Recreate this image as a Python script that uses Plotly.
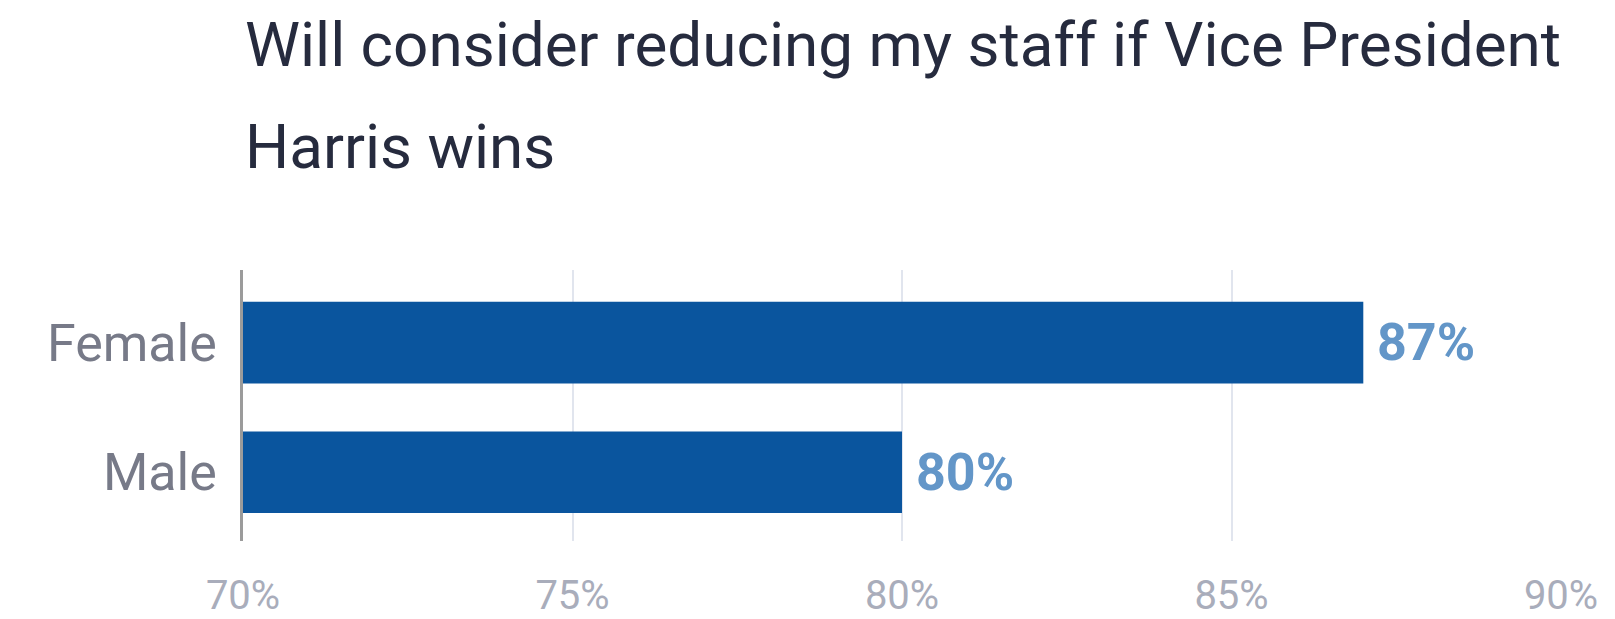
import plotly.graph_objects as go

# Survey share by gender
categories = ["Female", "Male"]
values = [87, 80]
value_labels = ["87%", "80%"]
tick_values = [70, 75, 80, 85, 90]
tick_labels = ["70%", "75%", "80%", "85%", "90%"]
title_lines = ["Will consider reducing my staff if Vice President", "Harris wins"]

FONT = "Roboto"
W, H = 1615, 619
M_L, M_R, M_T, M_B = 243, 54, 270, 78
plot_h = H - M_T - M_B

fig = go.Figure(
    go.Bar(
        x=values,
        y=categories,
        orientation="h",
        width=0.63,
        marker=dict(color="#0a559e", line=dict(width=0)),
        hoverinfo="skip",
    )
)

# value labels just past the bar ends
for cat, v, lab in zip(categories, values, value_labels):
    fig.add_annotation(
        x=v, y=cat, xref="x", yref="y", text=f"<b>{lab}</b>",
        showarrow=False, xanchor="left", yanchor="middle", xshift=12,
        font=dict(family=FONT, size=52, color="#6396c8"),
    )

# two-line heading above the plot area
title_px = [45, 146]
for line, py in zip(title_lines, title_px):
    fig.add_annotation(
        x=0, y=(H - M_B - py) / plot_h, xref="paper", yref="paper",
        text=line, showarrow=False, xanchor="left", yanchor="middle",
        font=dict(family=FONT, size=62, color="#262b3e"),
    )

fig.update_layout(
    width=W, height=H,
    margin=dict(l=M_L, r=M_R, t=M_T, b=M_B, pad=0, autoexpand=False),
    paper_bgcolor="white", plot_bgcolor="white",
    showlegend=False,
    xaxis=dict(
        range=[70, 90], tickvals=tick_values, ticktext=tick_labels,
        showgrid=True, gridcolor="#e1e5ee", gridwidth=2,
        zeroline=False, showline=False, ticks="",
        automargin=False,
        ticklabelstandoff=27,
        tickfont=dict(family=FONT, size=40, color="#a9adbb"),
        fixedrange=True,
    ),
    yaxis=dict(
        categoryorder="array", categoryarray=categories,
        range=[1.53, -0.56],
        showgrid=False, zeroline=False,
        showline=True, linecolor="#9b9b9b", linewidth=2.5,
        ticks="", ticklabelstandoff=13, automargin=False,
        tickfont=dict(family=FONT, size=52, color="#777a88"),
        fixedrange=True,
    ),
)

fig.write_html("out.html", config={"displayModeBar": False})
